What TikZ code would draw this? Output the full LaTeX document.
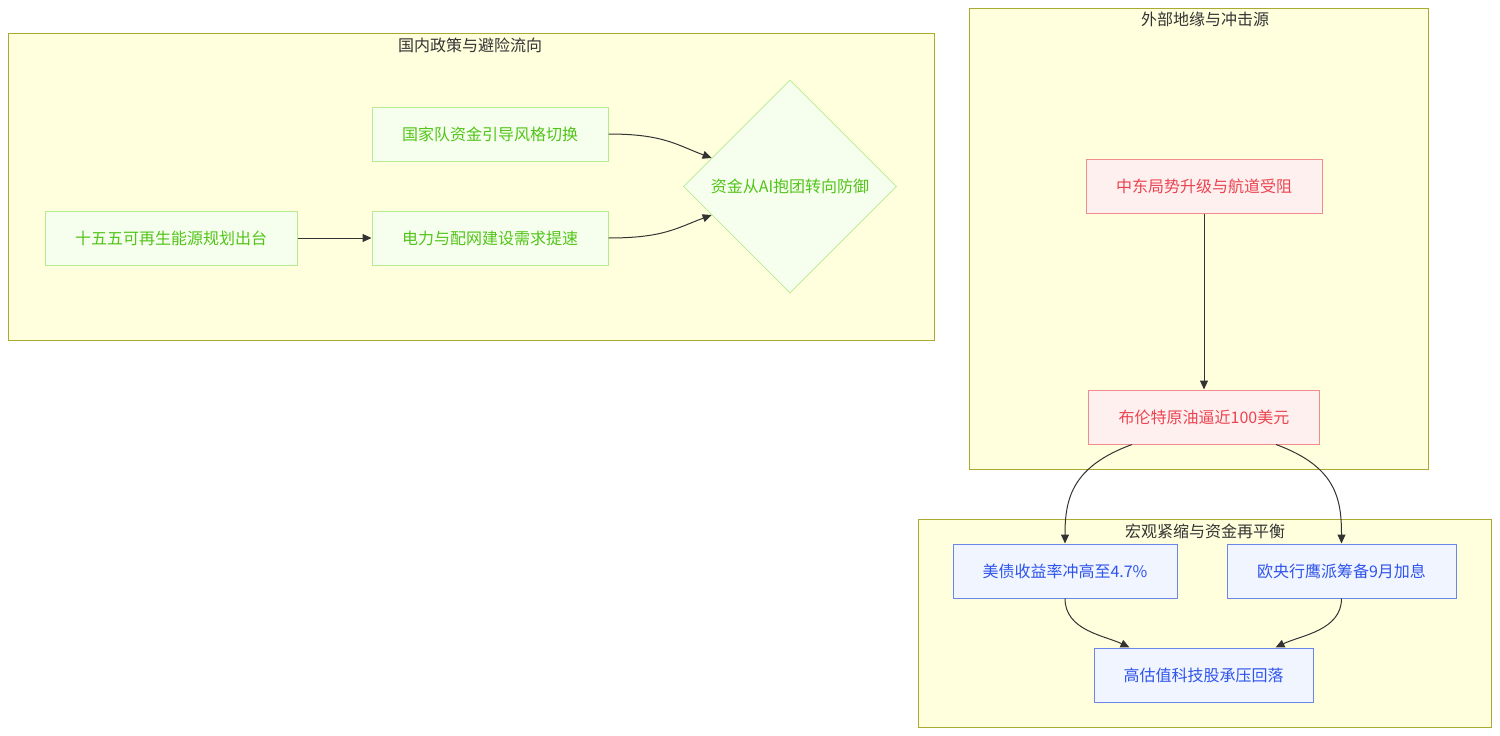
\documentclass[tikz,border=0pt]{standalone}
\usepackage{fontspec}
\setmainfont{Noto Sans CJK SC}
\usetikzlibrary{shapes.geometric,arrows.meta,calc}
\definecolor{clfill}{HTML}{FFFFDE}
\definecolor{cldraw}{HTML}{AAAA33}
\definecolor{gfill}{HTML}{F6FFED}
\definecolor{gdraw}{HTML}{B7EB8F}
\definecolor{gtext}{HTML}{52C41A}
\definecolor{rfill}{HTML}{FFF0F0}
\definecolor{rdraw}{HTML}{F08C8C}
\definecolor{rtext}{HTML}{EB4450}
\definecolor{bfill}{HTML}{F0F5FF}
\definecolor{bdraw}{HTML}{6A86E8}
\definecolor{btext}{HTML}{2F54EB}
\definecolor{edge}{HTML}{333333}
\definecolor{ttl}{HTML}{333333}
\tikzset{
  cluster/.style={draw=cldraw,fill=clfill,line width=1pt},
  ctitle/.style={text=ttl,font=\fontsize{16}{19}\selectfont,inner sep=0pt},
  gbox/.style={draw=gdraw,fill=gfill,text=gtext,line width=1pt,font=\fontsize{16}{19}\selectfont,minimum height=54pt,inner sep=0pt},
  rbox/.style={draw=rdraw,fill=rfill,text=rtext,line width=1pt,font=\fontsize{16}{19}\selectfont,minimum height=54pt,inner sep=0pt},
  bbox/.style={draw=bdraw,fill=bfill,text=btext,line width=1pt,font=\fontsize{16}{19}\selectfont,minimum height=54pt,inner sep=0pt},
  gdia/.style={diamond,draw=gdraw,fill=gfill,text=gtext,line width=0.8pt,font=\fontsize{16}{19}\selectfont,minimum width=213pt,minimum height=213pt,inner sep=0pt},
  conn/.style={draw=edge,line width=1pt,-{Triangle[length=9pt,width=8pt]}}
}
\begin{document}
\begin{tikzpicture}[x=1pt,y=-1pt]
\useasboundingbox (0,0) rectangle (1500,736);
\fill[white] (0,0) rectangle (1500,736);
% clusters
\draw[cluster] (8,33) rectangle (934,340);
\node[ctitle] (t1) at (470,45) {国内政策与避险流向};
\draw[cluster] (969,8) rectangle (1428,469);
\node[ctitle] (t2) at (1205,19) {外部地缘与冲击源};
\draw[cluster] (918,519) rectangle (1491,727);
\node[ctitle] (t3) at (1205,531) {宏观紧缩与资金再平衡};
% nodes
\node[gbox,minimum width=252pt] (A) at (171,238) {十五五可再生能源规划出台};
\node[gbox,minimum width=236pt] (B) at (490,238) {电力与配网建设需求提速};
\node[gbox,minimum width=236pt] (C) at (490,134) {国家队资金引导风格切换};
\node[gdia] (D) at (790,186.5) {资金从AI抱团转向防御};
\node[rbox,minimum width=236pt] (E) at (1204,186) {中东局势升级与航道受阻};
\node[rbox,minimum width=231pt] (F) at (1204,417) {布伦特原油逼近100美元};
\node[bbox,minimum width=224pt] (G) at (1065,571) {美债收益率冲高至4.7\%};
\node[bbox,minimum width=229pt] (H) at (1341.5,571) {欧央行鹰派筹备9月加息};
\node[bbox,minimum width=219pt] (I) at (1203.5,675) {高估值科技股承压回落};
% edges
\draw[conn] (A.east) -- (B.west);
\draw[conn] (C.east) .. controls +(55,0) and +(-35,-13) .. (D.160);
\draw[conn] (B.east) .. controls +(55,0) and +(-35,13) .. (D.200);
\draw[conn] (E.south) -- (F.north);
\draw[conn] ([xshift=-72pt]F.south) .. controls +(-60,22) and +(0,-45) .. (G.north);
\draw[conn] ([xshift=72pt]F.south) .. controls +(60,22) and +(0,-45) .. (H.north);
\draw[conn] (G.south) .. controls +(0,32) and +(-25,-12) .. ([xshift=-74pt]I.north);
\draw[conn] (H.south) .. controls +(0,32) and +(25,-12) .. ([xshift=72pt]I.north);
\end{tikzpicture}
\end{document}
